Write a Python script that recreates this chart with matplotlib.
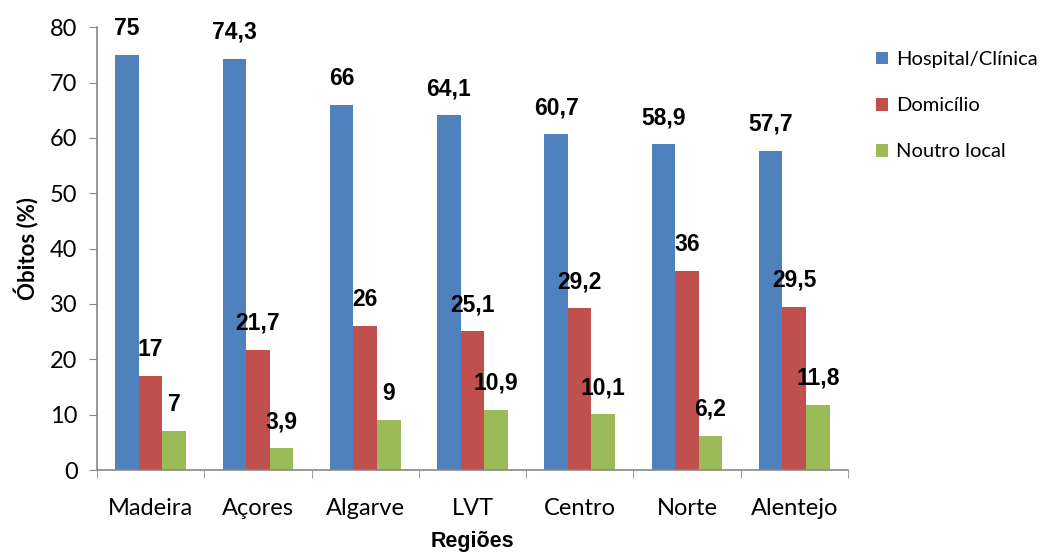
import matplotlib
matplotlib.use('Agg')
import matplotlib.pyplot as plt
import numpy as np

regioes = ["Madeira", "Açores", "Algarve", "LVT", "Centro", "Norte", "Alentejo"]
hospital = [75, 74.3, 66, 64.1, 60.7, 58.9, 57.7]
domicilio = [17, 21.7, 26, 25.1, 29.2, 36, 29.5]
noutro = [7, 3.9, 9, 10.9, 10.1, 6.2, 11.8]
series = ["Hospital/Clínica", "Domicílio", "Noutro local"]
cores = ["#4F81BD", "#C0504D", "#9BBB59"]

fig = plt.figure(figsize=(10.48, 5.54), dpi=100)
ax = fig.add_axes([0.0926, 0.1516, 0.7164, 0.7994])

x = np.arange(len(regioes))
w = 0.22
for i, (vals, nome, cor) in enumerate(zip([hospital, domicilio, noutro], series, cores)):
    pos = x + (i - 1) * w
    ax.bar(pos, vals, w, color=cor, label=nome, zorder=2)
    for p, v in zip(pos, vals):
        txt = ("%g" % v).replace(".", ",")
        ax.annotate(txt, (p, v), xytext=(0, 19), textcoords="offset points",
                    ha="center", va="center", fontsize=16.5, fontweight="bold",
                    family="Liberation Sans")

ax.set_xlim(-0.5, len(regioes) - 0.5)
ax.set_ylim(0, 80)
ax.set_yticks(range(0, 81, 10))
ax.set_xticks(x)
ax.set_xticklabels(regioes, family="Lato", fontsize=17)
ax.set_xticks(np.arange(-0.5, len(regioes)), minor=True)
ax.tick_params(axis="x", which="major", length=0, pad=20)
ax.tick_params(axis="x", which="minor", length=6, color="#888888")
ax.tick_params(axis="y", length=6, color="#888888", labelsize=17, pad=8)
for lab in ax.get_yticklabels():
    lab.set_family("Lato")
for s in ["top", "right"]:
    ax.spines[s].set_visible(False)
for s in ["left", "bottom"]:
    ax.spines[s].set_color("#888888")
    ax.spines[s].set_linewidth(1.2)

ax.set_xlabel("Regiões", fontsize=15.5, fontweight="bold", family="Liberation Sans", labelpad=9)
ax.set_ylabel("Óbitos (%)", fontsize=16, fontweight="bold", family="Lato", labelpad=8)

leg = ax.legend(loc="upper left", bbox_to_anchor=(1.037, 0.946), frameon=False,
                borderpad=0, borderaxespad=0,
                prop={"family": "Lato", "size": 14.5}, handlelength=0.6, handleheight=0.6,
                handletextpad=0.4, labelspacing=1.45)

fig.savefig("out.png", dpi=100)
